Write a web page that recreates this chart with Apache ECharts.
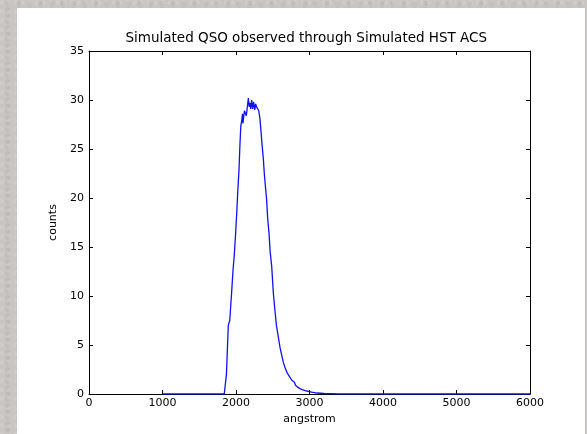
<!DOCTYPE html>
<html>
<head>
<meta charset="utf-8">
<script src="https://cdn.jsdelivr.net/npm/echarts@6/dist/echarts.min.js"></script>
<style>
    html, body { margin: 0; padding: 0; }
    body {
        width: 587px; height: 434px; overflow: hidden;
        background: #c8c5c2;
        background-image:
            radial-gradient(circle at 20% 30%, rgba(255,255,255,0.10) 0 2px, transparent 3px),
            radial-gradient(circle at 70% 60%, rgba(0,0,0,0.05) 0 2px, transparent 3px);
        background-size: 7px 9px, 11px 6px;
    }
    #panel {
        position: absolute; left: 17px; top: 8px; width: 568px; height: 426px;
        background: #fff;
    }
    #chart { position: absolute; left: 0; top: 0; width: 587px; height: 434px; }
</style>
</head>
<body>
<div id="panel"></div>
<div id="chart"></div>
<script>
// wavelength (angstrom) and counts
const wavelengths = [1000, 1500, 1840, 1870, 1895, 1915, 1940, 1960, 1975, 1995,
    2010, 2023, 2041, 2054, 2065, 2080, 2088, 2095, 2105, 2115,
    2125, 2140, 2150, 2168, 2180, 2192, 2200, 2213, 2226, 2240,
    2255, 2268, 2280, 2295, 2310, 2327, 2340, 2355, 2372, 2385,
    2400, 2417, 2430, 2449, 2465, 2486, 2508, 2530, 2550, 2576,
    2600, 2621, 2645, 2667, 2700, 2735, 2760, 2780, 2795, 2810,
    2840, 2871, 2900, 2940, 2980, 3030, 3100, 3200, 3400, 3600,
    4000, 5000, 6000]
const counts = [0, 0, 0, 2.0, 7.0, 7.5, 10.3, 12.7, 14.0, 16.4,
    18.5, 20.5, 22.9, 25.5, 27.3, 28.0, 28.6, 27.6, 28.3, 28.9,
    28.7, 28.4, 29.0, 30.2, 29.3, 29.7, 29.1, 30.0, 29.1, 29.8,
    29.0, 29.6, 29.3, 29.4, 28.9, 28.0, 26.8, 25.4, 24.0, 22.5,
    21.2, 19.8, 18.0, 16.4, 14.5, 13.0, 10.3, 8.5, 7.0, 5.8,
    4.7, 4.0, 3.2, 2.7, 2.1, 1.7, 1.4, 1.5, 1.2, 0.9,
    0.7, 0.55, 0.45, 0.35, 0.28, 0.2, 0.1, 0.05, 0.02, 0.01,
    0, 0, 0]
const xTicks = [0, 1000, 2000, 3000, 4000, 5000, 6000]
const yTicks = [0, 5, 10, 15, 20, 25, 30, 35]

const fontFamily = 'DejaVu Sans'
const axisColor = '#000'

const seriesData = wavelengths.map((w, i) => [w, counts[i]])

const chart = echarts.init(document.getElementById('chart'), null, { renderer: 'canvas' })

const baseAxis = {
    axisLine: { show: true, onZero: false, lineStyle: { color: axisColor, width: 1 } },
    axisTick: { show: true, inside: true, length: 4, lineStyle: { color: axisColor } },
    splitLine: { show: false }
}

const options = {
    animation: false,
    graphic: [{
        type: 'text',
        left: 309.5 - 184,
        top: 31,
        style: {
            text: 'Simulated QSO observed through Simulated HST ACS',
            fontFamily: fontFamily,
            fontSize: 13.5,
            fill: '#000',
            width: 368,
            align: 'center'
        }
    }],
    grid: { left: 89, right: 57, top: 51, bottom: 40, containLabel: false },
    xAxis: [{
        ...baseAxis,
        type: 'value',
        min: xTicks[0],
        max: xTicks[xTicks.length - 1],
        interval: 1000,
        name: 'angstrom',
        nameLocation: 'center',
        nameGap: 15,
        nameTextStyle: { fontFamily: fontFamily, fontSize: 11, color: '#000' },
        axisLabel: { fontFamily: fontFamily, fontSize: 11, color: '#000', margin: 4, formatter: v => String(v) }
    }, {
        ...baseAxis,
        type: 'value',
        position: 'top',
        min: xTicks[0],
        max: xTicks[xTicks.length - 1],
        interval: 1000,
        axisLabel: { show: false }
    }],
    yAxis: [{
        ...baseAxis,
        type: 'value',
        min: yTicks[0],
        max: yTicks[yTicks.length - 1],
        interval: 5,
        name: 'counts',
        nameLocation: 'center',
        nameRotate: 90,
        nameGap: 22,
        nameTextStyle: { fontFamily: fontFamily, fontSize: 11, color: '#000' },
        axisLabel: { fontFamily: fontFamily, fontSize: 11, color: '#000', margin: 5, formatter: v => String(v) }
    }, {
        ...baseAxis,
        type: 'value',
        position: 'right',
        min: yTicks[0],
        max: yTicks[yTicks.length - 1],
        interval: 5,
        axisLabel: { show: false }
    }],
    series: [{
        type: 'line',
        data: seriesData,
        showSymbol: false,
        smooth: false,
        lineStyle: { color: '#1010f0', width: 1.3 },
        itemStyle: { color: '#1010f0' }
    }]
}

chart.setOption(options)
</script>
</body>
</html>
